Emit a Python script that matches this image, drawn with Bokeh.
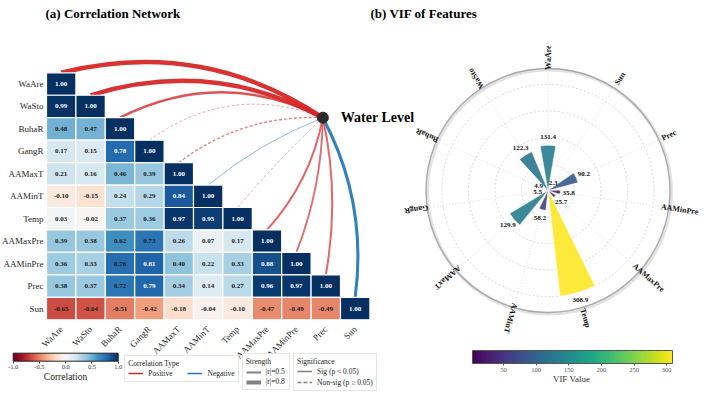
import numpy as np
from bokeh.plotting import figure
from bokeh.models import (ColumnDataSource, LinearColorMapper, ColorBar, FixedTicker,
                          PrintfTickFormatter, Range1d, Label, Legend, LegendItem)
from bokeh.core.properties import value
from bokeh.transform import transform
from bokeh.palettes import Viridis256
from bokeh.embed import file_html
from bokeh.resources import INLINE

# ---------------- data ----------------
features = ["WaAre", "WaSto", "BuhaR", "GangR", "AAMaxT", "AAMinT", "Temp",
            "AAMaxPre", "AAMinPre", "Prec", "Sun"]
corr_rows = [
    [1.00],
    [0.99, 1.00],
    [0.48, 0.47, 1.00],
    [0.17, 0.15, 0.78, 1.00],
    [0.21, 0.16, 0.46, 0.39, 1.00],
    [-0.10, -0.15, 0.24, 0.29, 0.84, 1.00],
    [0.03, -0.02, 0.37, 0.36, 0.97, 0.95, 1.00],
    [0.39, 0.38, 0.62, 0.73, 0.26, 0.07, 0.17, 1.00],
    [0.36, 0.33, 0.76, 0.81, 0.40, 0.22, 0.33, 0.88, 1.00],
    [0.38, 0.37, 0.72, 0.79, 0.34, 0.14, 0.27, 0.96, 0.97, 1.00],
    [-0.65, -0.64, -0.51, -0.42, -0.18, -0.04, -0.10, -0.47, -0.49, -0.49, 1.00],
]
# correlation of each feature with Water Level (estimated from line widths/colours)
wl_corr = [0.90, 0.88, 0.50, 0.15, 0.28, -0.20, 0.12, 0.40, 0.38, 0.40, -0.62]
wl_sig = [True, True, True, False, False, True, False, True, True, True, True]

vif_features = ["WaAre", "Sun", "Prec", "AAMinPre", "AAMaxPre", "Temp",
                "AAMinT", "AAMaxT", "GangR", "BuhaR", "WaSto"]
vif_values = [131.4, 2.3, 90.2, 35.8, 25.7, 308.9, 58.2, 129.9, 5.5, 4.9, 122.3]

corr_ticks = [-1.0, -0.5, 0.0, 0.5, 1.0]
vif_ticks = [50, 100, 150, 200, 250, 300]

# ---------------- layout / style ----------------
SERIF = "Liberation Serif"
W, H = 704, 396
CW, CH = 29.4, 22.45          # heatmap cell size in px
HM_X0, HM_Y0 = 46.0, 72.3     # heatmap top-left in canvas px
PCX, PCY = 547.5, 190.0       # polar centre in canvas px
R_OUT_PX = 122.0
NODE_X, NODE_Y = 8.9, -1.5
ARC_BEND = [-0.22, -0.21, -0.25, -0.27, -0.18, -0.08, -0.03, 0.14, 0.09, 0.10, 0.16]
RED, BLUE = "#d62728", "#1f77b4"

rdbu_anchor = ['#67001f', '#b2182b', '#d6604d', '#f4a582', '#fddbc7', '#f7f7f7',
               '#d1e5f0', '#92c5de', '#4393c3', '#2166ac', '#053061']


def interp_palette(colors, n):
    rgb = np.array([[int(c[i:i + 2], 16) for i in (1, 3, 5)] for c in colors], float)
    pos = np.linspace(0, 1, len(colors))
    t = np.linspace(0, 1, n)
    chans = [np.interp(t, pos, rgb[:, k]) for k in range(3)]
    return ["#%02x%02x%02x" % (int(round(r)), int(round(g)), int(round(b)))
            for r, g, b in zip(*chans)]


rdbu = interp_palette(rdbu_anchor, 256)

xs0 = -(HM_X0 + CW / 2) / CW
ye0 = (HM_Y0 + CH / 2) / CH
R_MAX = max(vif_values) * 1.15
S = R_OUT_PX / R_MAX

p = figure(width=W, height=H, output_backend="svg", toolbar_location=None,
           x_range=Range1d(xs0, xs0 + W / CW), y_range=Range1d(ye0 - H / CH, ye0),
           x_axis_location=None, y_axis_location=None, min_border=0,
           outline_line_color=None, background_fill_color="white",
           border_fill_color="white")
p.grid.grid_line_color = None
p.extra_x_ranges = {"px": Range1d(-PCX / S, (W - PCX) / S)}
p.extra_y_ranges = {"py": Range1d(-(H - PCY) / S, PCY / S)}

n = len(features)

# ---------------- arcs to Water Level ----------------
arc = {k: [] for k in ["x0", "y0", "x1", "y1", "cx", "cy", "color", "lw", "alpha", "sig"]}
for i in range(n):
    X0, Y0 = i * CW, (-i + 0.5) * CH
    X2, Y2 = NODE_X * CW, NODE_Y * CH
    dx, dy = X2 - X0, Y2 - Y0
    mx, my = (X0 + X2) / 2, (Y0 + Y2) / 2
    f = ARC_BEND[i]
    cX, cY = mx + f * dy, my - f * dx
    r = wl_corr[i]
    arc["x0"].append(i); arc["y0"].append(-i + 0.5)
    arc["x1"].append(NODE_X); arc["y1"].append(NODE_Y)
    arc["cx"].append(cX / CW); arc["cy"].append(cY / CH)
    arc["color"].append(RED if r > 0 else BLUE)
    arc["lw"].append(max(0.9, 5 * abs(r)))
    arc["alpha"].append(min(0.95, 0.3 + abs(r)))
    arc["sig"].append(wl_sig[i])

for sig, dash in [(True, "solid"), (False, "3 2")]:
    idx = [k for k in range(n) if arc["sig"][k] == sig]
    src = ColumnDataSource({k: [arc[k][j] for j in idx] for k in arc if k != "sig"})
    p.quadratic(x0="x0", y0="y0", x1="x1", y1="y1", cx="cx", cy="cy", source=src,
                line_color="color", line_width="lw", line_alpha="alpha", line_dash=dash)

# ---------------- heatmap ----------------
hx, hy, hv, ht, htc = [], [], [], [], []
for r_i, row in enumerate(corr_rows):
    for c_i, v in enumerate(row):
        hx.append(c_i); hy.append(-r_i); hv.append(v)
        ht.append("%.2f" % v)
        htc.append("white" if abs(v) >= 0.775 else "#1a1a1a")
hsrc = ColumnDataSource(dict(x=hx, y=hy, v=hv, t=ht, tc=htc))
corr_mapper = LinearColorMapper(palette=rdbu, low=-1, high=1)
p.rect(x="x", y="y", width=1, height=1, source=hsrc,
       fill_color=transform("v", corr_mapper), line_color="white", line_width=1.2)
p.text(x="x", y="y", text="t", source=hsrc, text_color="tc",
       text_font=value(SERIF), text_font_style="bold", text_font_size="7px",
       text_align="center", text_baseline="middle")

# row labels
p.text(x=[-0.5] * n, y=[-i for i in range(n)], text=features, x_offset=-3,
       text_font=value(SERIF), text_font_size="9px", text_color="#262626",
       text_align="right", text_baseline="middle")
# column labels
p.text(x=list(range(n)), y=[-(n - 1) - 0.5] * n, text=features, y_offset=8,
       angle=np.pi / 4, text_font=value(SERIF), text_font_size="9px",
       text_color="#262626", text_align="right", text_baseline="middle")

# node
p.scatter(x=[NODE_X], y=[NODE_Y], size=11, color="#2b2b2b")
p.text(x=[NODE_X], y=[NODE_Y], text=["Water Level"], x_offset=18,
       text_font=value(SERIF), text_font_style="bold", text_font_size="14px",
       text_color="black", text_align="left", text_baseline="middle")

# ---------------- correlation colour bar + legends ----------------
cb1 = ColorBar(color_mapper=corr_mapper, orientation="horizontal", width=105, height=8,
               location=(12.7, 24.3), ticker=FixedTicker(ticks=corr_ticks),
               formatter=PrintfTickFormatter(format="%.1f"), padding=0, margin=0,
               major_label_text_font=SERIF, major_label_text_font_size="6.5px",
               major_label_text_color="#333333", label_standoff=2,
               major_tick_out=2, major_tick_in=0, major_tick_line_color="#333333",
               bar_line_color="#222222", background_fill_alpha=0, border_line_color=None)
p.add_layout(cb1, "center")
p.add_layout(Label(x=65, y=20, x_units="screen", y_units="screen", text="Correlation",
                   text_font=SERIF, text_font_size="9.5px", text_color="#222222",
                   text_align="center", text_baseline="middle"))

OFF = [-1000, -999]


def dummy(color, lw, dash="solid"):
    return p.line(x=OFF, y=OFF, line_color=color, line_width=lw, line_dash=dash)


leg_style = dict(label_text_font=SERIF, label_text_font_size="7.5px",
                 label_text_color="#222222", title_text_font=SERIF,
                 title_text_font_size="7.5px", title_text_color="#222222",
                 title_text_font_style="normal",
                 glyph_width=15, glyph_height=8, label_height=8, label_standoff=5,
                 padding=3, margin=0, title_standoff=1, border_line_color="#cccccc",
                 border_line_width=1, background_fill_color="white")

leg1 = Legend(items=[LegendItem(label="Positive", renderers=[dummy(RED, 1.5)]),
                     LegendItem(label="Negative", renderers=[dummy(BLUE, 1.5)])],
              title="Correlation Type", orientation="horizontal", spacing=15,
              location=(124.3, 14.3), **leg_style)
leg2 = Legend(items=[LegendItem(label="|r|=0.5", renderers=[dummy("gray", 2)]),
                     LegendItem(label="|r|=0.8", renderers=[dummy("gray", 4)])],
              title="Strength", orientation="vertical", spacing=1,
              location=(241.7, 6), **leg_style)
leg3 = Legend(items=[LegendItem(label="Sig (p < 0.05)", renderers=[dummy("gray", 1.5)]),
                     LegendItem(label="Non-sig (p \u2265 0.05)",
                                renderers=[dummy("gray", 1.5, "4 2")])],
              title="Significance", orientation="vertical", spacing=2,
              location=(293, 5.3), **leg_style)
for lg in (leg1, leg2, leg3):
    p.add_layout(lg, "center")

# ---------------- polar VIF chart ----------------
m = len(vif_features)
theta = np.arange(m) * 2 * np.pi / m            # clockwise from top
ang = np.pi / 2 - theta                          # math angle
bw = 0.6 * 2 * np.pi / m
PR = dict(x_range_name="px", y_range_name="py")

grid_r = [max(vif_values) * k / 4 for k in (1, 2, 3, 4)]
p.circle(x=[0] * 4, y=[0] * 4, radius=grid_r, fill_color=None, line_color="#cfcfcf",
         line_width=0.8, line_dash="2 2", **PR)
p.segment(x0=[0] * m, y0=[0] * m, x1=list(R_MAX * np.cos(ang)), y1=list(R_MAX * np.sin(ang)),
          line_color="#d5d5d5", line_width=0.8, line_dash="1 2", **PR)
# outer ring with soft shadow
p.circle(x=[1.2 / S], y=[-1.2 / S], radius=R_MAX, fill_color=None, line_color="#e2e2e2",
         line_width=3.5, **PR)
p.circle(x=[0], y=[0], radius=R_MAX, fill_color=None, line_color="#a8a8a8",
         line_width=1.3, **PR)

vif_mapper = LinearColorMapper(palette=Viridis256, low=min(vif_values), high=max(vif_values))
vsrc = ColumnDataSource(dict(v=vif_values, sa=list(ang - bw / 2), ea=list(ang + bw / 2)))
p.wedge(x=0, y=0, radius="v", start_angle="sa", end_angle="ea", source=vsrc,
        fill_color=transform("v", vif_mapper), fill_alpha=0.9, line_color="white",
        line_width=0.4, **PR)

lab_r = [v + 0.07 * R_MAX for v in vif_values]
p.text(x=list(np.array(lab_r) * np.cos(ang)), y=list(np.array(lab_r) * np.sin(ang)),
       text=["%.1f" % v for v in vif_values], text_font=value(SERIF),
       text_font_style="bold", text_font_size="7px", text_color="#111111",
       text_align="center", text_baseline="middle", **PR)

cat_r = 1.09 * R_MAX
p.text(x=list(cat_r * np.cos(ang)), y=list(cat_r * np.sin(ang)), text=vif_features,
       angle=list(ang), text_font=value(SERIF), text_font_style="bold",
       text_font_size="8px", text_color="#111111", text_align="center",
       text_baseline="middle", **PR)

cb2 = ColorBar(color_mapper=vif_mapper, orientation="horizontal", width=200, height=13,
               location=(472, 22), ticker=FixedTicker(ticks=vif_ticks), padding=0, margin=0,
               major_label_text_font=SERIF, major_label_text_font_size="6.5px",
               major_label_text_color="#555555", label_standoff=2,
               major_tick_out=2, major_tick_in=0, major_tick_line_color="#555555",
               bar_line_color="#555555", background_fill_alpha=0, border_line_color=None)
p.add_layout(cb2, "center")
p.add_layout(Label(x=571, y=18, x_units="screen", y_units="screen", text="VIF Value",
                   text_font=SERIF, text_font_size="9px", text_color="#333333",
                   text_align="center", text_baseline="middle"))

# titles
p.add_layout(Label(x=45, y=383, x_units="screen", y_units="screen",
                   text="(a) Correlation Network", text_font=SERIF,
                   text_font_style="bold", text_font_size="13px", text_color="black",
                   text_align="left", text_baseline="middle"))
p.add_layout(Label(x=370, y=383, x_units="screen", y_units="screen",
                   text="(b) VIF of Features", text_font=SERIF,
                   text_font_style="bold", text_font_size="13px", text_color="black",
                   text_align="left", text_baseline="middle"))

open("out.html", "w").write(file_html(p, INLINE))
